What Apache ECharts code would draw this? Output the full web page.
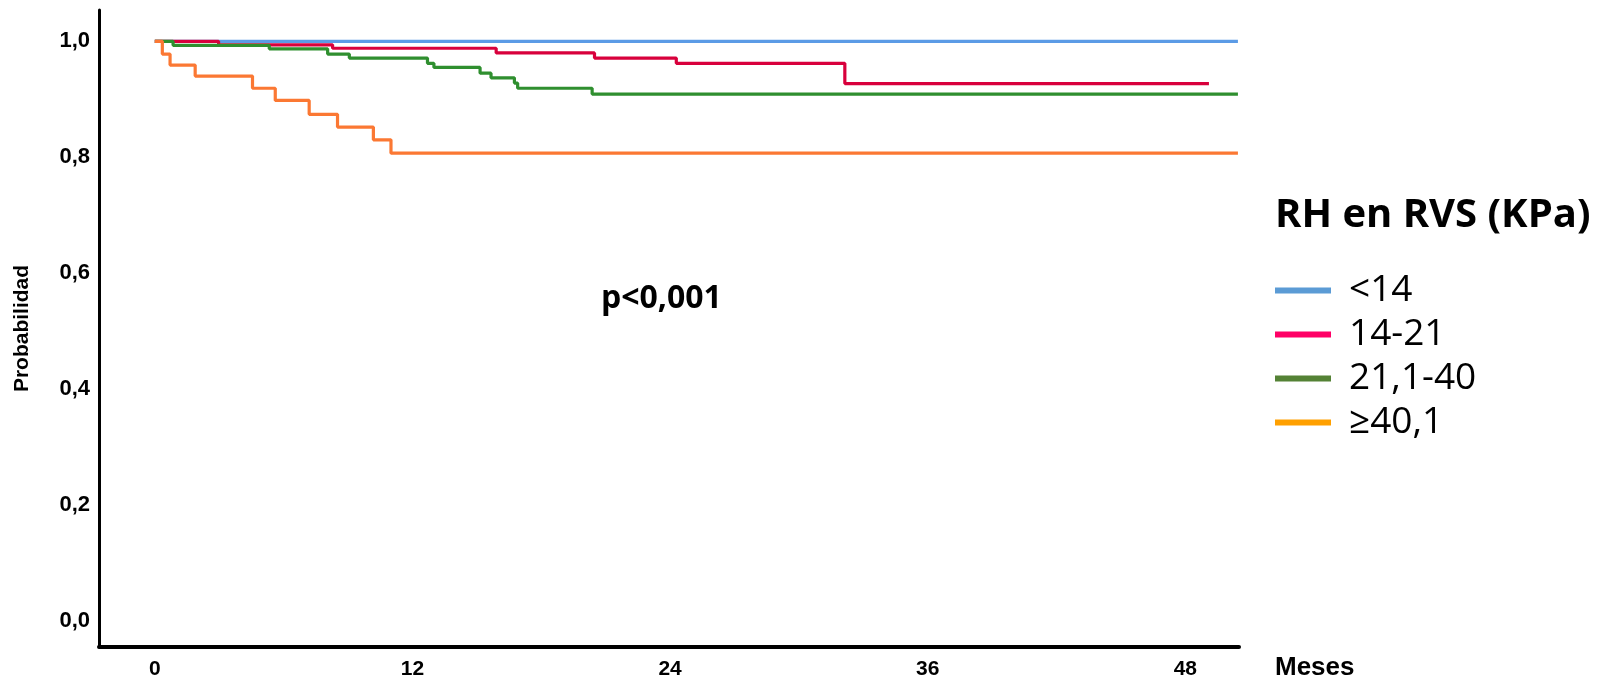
<!DOCTYPE html>
<html>
<head>
<meta charset="utf-8">
<script src="https://cdn.jsdelivr.net/npm/echarts@6/dist/echarts.min.js"></script>
<style>html,body{margin:0;padding:0;background:#fff}#c{width:1606px;height:685px}</style>
</head>
<body>
<div id="c"></div>
<script>
// ---- data ----
const categories = ['<14', '14-21', '21,1-40', '≥40,1'];
const legendTitle = 'RH en RVS (KPa)';
const pText = 'p<0,001';
const xTicks = [0, 12, 24, 36, 48];
const yTicks = [0, 0.2, 0.4, 0.6, 0.8, 1.0];

const blueT = [0, 50.45];
const blueP = [1, 1];
const redT = [0, 2.97, 8.28, 15.9, 20.48, 24.29, 32.14, 49.1];
const redP = [1, 0.994, 0.988, 0.980, 0.971, 0.962, 0.927, 0.927];
const greenT = [0, 0.85, 5.33, 8.05, 9.06, 12.7, 13.0, 15.15, 15.66, 16.75, 16.9, 20.37, 50.45];
const greenP = [1, 0.993, 0.987, 0.978, 0.971, 0.962, 0.955, 0.945, 0.937, 0.928, 0.919, 0.909, 0.909];
const orangeT = [0, 0.35, 0.71, 1.88, 4.55, 5.61, 7.19, 8.51, 10.18, 11.0, 50.45];
const orangeP = [1, 0.978, 0.959, 0.940, 0.919, 0.898, 0.874, 0.852, 0.830, 0.807, 0.807];

const lineColors = ['#5b9be6', '#d8003c', '#2f8f2f', '#fb7833'];
const legendColors = ['#5b9bd5', '#ff0066', '#548235', '#ffa000'];

const seriesT = [blueT, redT, greenT, orangeT];
const seriesP = [blueP, redP, greenP, orangeP];

const chart = echarts.init(document.getElementById('c'), null, {renderer: 'canvas'});
const fmt = v => Number(v).toFixed(1).replace('.', ',');

const option = {
  animation: false,
  backgroundColor: '#ffffff',
  title: [
    {text: legendTitle, left: 1275, top: 196, padding: 0,
     textStyle: {fontFamily: 'Open Sans', fontWeight: 'bold', fontSize: 40, color: '#000'}},
    {text: pText, left: 601, top: 283, padding: 0,
     textStyle: {fontFamily: 'Open Sans', fontWeight: 'bold', fontSize: 32, color: '#000'}}
  ],
  legend: {
    orient: 'vertical', left: 1275, top: 271, padding: 0,
    icon: 'rect', itemWidth: 56, itemHeight: 6, itemGap: 5,
    textStyle: {fontFamily: 'Open Sans', fontSize: 37, color: '#000', lineHeight: 39, padding: [0, 0, 0, 13]},
    data: categories.map((c, i) => ({name: c, itemStyle: {color: legendColors[i]}}))
  },
  grid: {left: 99, right: 367, top: 10, bottom: 38, containLabel: false, outerBoundsMode: 'none'},
  xAxis: {
    type: 'value', min: -2.6, max: 50.5,
    name: 'Meses', nameLocation: 'end', nameGap: 36,
    nameTextStyle: {fontFamily: 'Liberation Sans, Arial', fontWeight: 'bold', fontSize: 26, color: '#000',
                    align: 'left', verticalAlign: 'top', padding: [8, 0, 0, 0]},
    axisLine: {show: true, onZero: false, lineStyle: {color: '#000', width: 4}},
    axisTick: {show: false},
    splitLine: {show: false},
    axisLabel: {customValues: xTicks, margin: 12, fontFamily: 'Liberation Sans, Arial', fontWeight: 'bold', fontSize: 21, color: '#000'}
  },
  yAxis: {
    type: 'value', min: -0.045, max: 1.054,
    name: 'Probabilidad', nameLocation: 'middle', nameRotate: 90, nameGap: 66,
    nameTextStyle: {fontFamily: 'Liberation Sans, Arial', fontWeight: 'bold', fontSize: 21, color: '#000'},
    axisLine: {show: true, onZero: false, lineStyle: {color: '#000', width: 3}},
    axisTick: {show: false},
    splitLine: {show: false},
    axisLabel: {customValues: yTicks, formatter: fmt, margin: 9, fontFamily: 'Liberation Sans, Arial', fontWeight: 'bold', fontSize: 22, color: '#000'}
  },
  series: categories.map((c, i) => ({
    name: c, type: 'line', step: 'end', showSymbol: false, symbol: 'none',
    lineStyle: {color: lineColors[i], width: 3.2},
    itemStyle: {color: lineColors[i]},
    data: seriesT[i].map((t, j) => [t, seriesP[i][j]])
  }))
};
chart.setOption(option);
</script>
</body>
</html>
